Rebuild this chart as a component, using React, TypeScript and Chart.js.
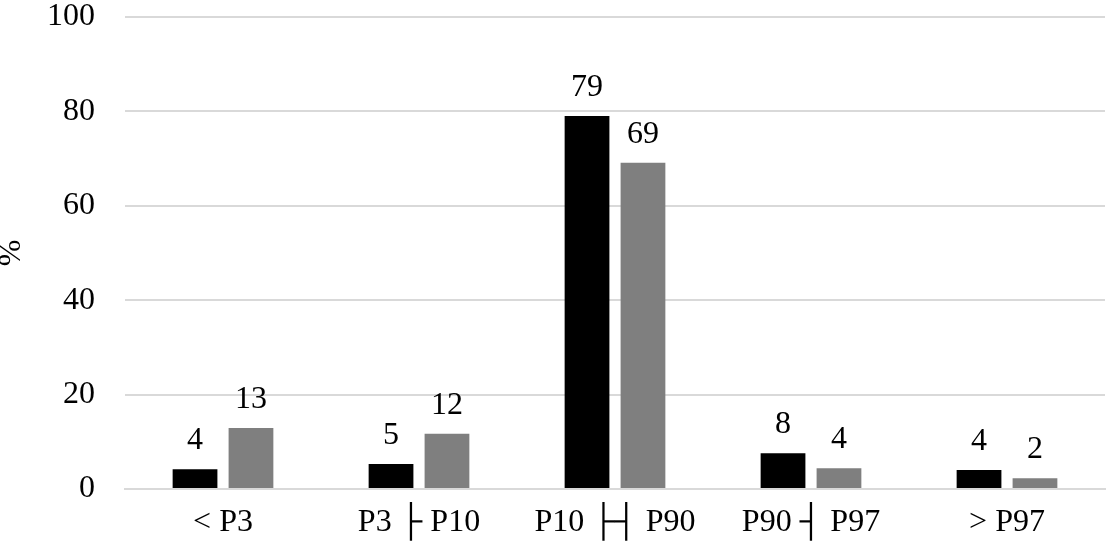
import React, { useEffect, useRef } from "react";
import { Chart, registerables } from "chart.js";

Chart.register(...registerables);

const categories = ["< P3", "P3 ├ P10", "P10 ├┤ P90", "P90 ┤ P97", "> P97"];
const seriesA = [4.2, 5.3, 79.0, 7.6, 4.0];
const seriesB = [12.9, 11.7, 69.1, 4.4, 2.3];
const yMin = 0;
const yMax = 100;
const yStep = 20;

const FONT = "'Liberation Serif', 'Times New Roman', serif";
const FS = 32;

const labelPlugin = {
  id: "barLabels",
  afterDatasetsDraw(chart: any) {
    const ctx = chart.ctx;
    ctx.save();
    ctx.font = `${FS}px ${FONT}`;
    ctx.fillStyle = "#000";
    ctx.textAlign = "center";
    ctx.textBaseline = "alphabetic";
    chart.data.datasets.forEach((ds: any, i: number) => {
      const meta = chart.getDatasetMeta(i);
      meta.data.forEach((bar: any, j: number) => {
        const v = Math.round(ds.data[j]);
        ctx.fillText(String(v), bar.x, bar.y - 20);
      });
    });
    ctx.restore();
  },
};

export default function App() {
  const ref = useRef<HTMLCanvasElement>(null);
  useEffect(() => {
    if (!ref.current) return;
    const chart = new Chart(ref.current, {
      type: "bar",
      data: {
        labels: categories,
        datasets: [
          { label: "A", data: seriesA, backgroundColor: "#000000", barPercentage: 0.8, categoryPercentage: 0.571 },
          { label: "B", data: seriesB, backgroundColor: "#7f7f7f", barPercentage: 0.8, categoryPercentage: 0.571 },
        ],
      },
      options: {
        animation: false,
        responsive: true,
        maintainAspectRatio: false,
        layout: { padding: { top: 17, right: 3, left: 0, bottom: 0 }, autoPadding: false },
        plugins: { legend: { display: false }, tooltip: { enabled: false } },
        scales: {
          x: {
            grid: { display: false, drawTicks: false },
            border: { display: true, color: "#d9d9d9", width: 2 },
            ticks: { color: "#000", font: { family: FONT, size: FS }, padding: 14, maxRotation: 0, autoSkip: false },
            afterFit: (s: any) => {
              s.height = 65;
              s.paddingLeft = 0;
              s.paddingRight = 0;
            },
          },
          y: {
            min: yMin,
            max: yMax,
            grid: { color: "#d9d9d9", lineWidth: 2, drawTicks: false },
            border: { display: false },
            ticks: { color: "#000", font: { family: FONT, size: FS }, padding: 30, stepSize: yStep },
            title: {
              display: true,
              text: "%",
              color: "#000",
              font: { family: FONT, size: FS, lineHeight: 0.75 },
              padding: { top: 0, bottom: 0 },
            },
            afterFit: (s: any) => {
              s.width = 125;
              s.paddingTop = 0;
              s.paddingBottom = 0;
            },
          },
        },
      },
      plugins: [labelPlugin],
    });
    return () => chart.destroy();
  }, []);
  return (
    <div style={{ position: "fixed", left: 0, top: 0, width: 1108, height: 554, background: "#fff" }}>
      <canvas ref={ref} />
    </div>
  );
}
